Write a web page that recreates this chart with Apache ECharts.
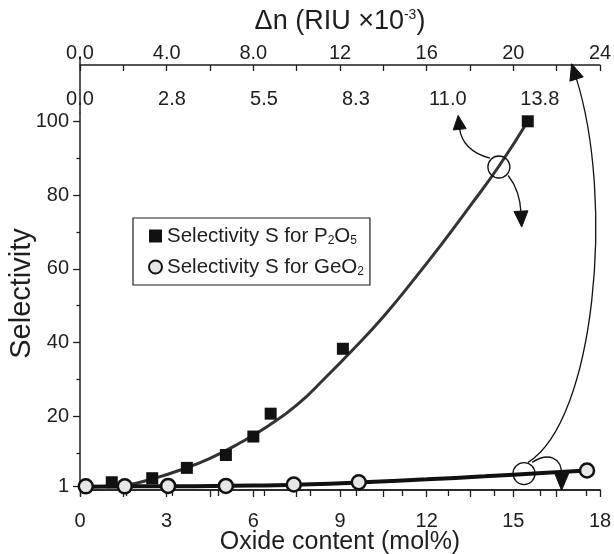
<!DOCTYPE html>
<html>
<head>
<meta charset="utf-8">
<script src="https://cdn.jsdelivr.net/npm/echarts@6/dist/echarts.min.js"></script>
<style>
html, body { margin: 0; padding: 0; background: #fff; }
#main { width: 614px; height: 554px; }
</style>
</head>
<body>
<div id="main"></div>
<script>
var chart = echarts.init(document.getElementById('main'));

// measured points (oxide content mol%, selectivity)
var p2o5X = [1.1, 2.5, 3.7, 5.05, 6.0, 6.6, 9.1, 15.5];
var p2o5S = [2.1, 3.2, 6.0, 9.5, 14.5, 20.7, 38.3, 100];
var geo2X = [0.2, 1.55, 3.05, 5.05, 7.4, 9.65, 17.55];
var geo2S = [1.0, 1.0, 1.1, 1.1, 1.5, 2.1, 5.3];

// fitted curves
var p2o5FitX = [1.5, 2.5, 3.5, 4.5, 5.5, 6.5, 7.5, 8.5, 9.5, 10.5, 11.5, 12.5, 13.5, 14.5, 15.5];
var p2o5FitS = [1.0, 3.0, 5.5, 8.6, 12.6, 17.3, 23, 30.5, 38.5, 47, 56.5, 66.5, 77, 87.8, 100];
var geo2FitX = [0.2, 2, 4, 6, 8, 10, 12, 14, 16, 17.55];
var geo2FitS = [0.9, 1.0, 1.05, 1.2, 1.55, 2.2, 2.9, 3.7, 4.6, 5.3];

// tick values
var yLabelVals = [1, 20, 40, 60, 80, 100];
var yMinorVals = [10, 30, 50, 70, 90];
var midLabelVals = [0, 2.75, 5.5, 8.25, 11, 13.75];
var midTickVals = [0, 1.375, 2.75, 4.125, 5.5, 6.875, 8.25, 9.625, 11, 12.375, 13.75, 15.125];

// annotation marks (in oxide / selectivity coordinates)
var annoCircles = [[14.5, 87.6], [15.37, 4.45]];
var annoArrows = [
    {pts: [[14.19, 90.0], [13.22, 92.1]], tip: [13.09, 101.6], len: 14, w: 13},
    {pts: [[14.82, 85.3], [15.23, 81.3]], tip: [15.29, 71.3], len: 16, w: 14},
    {pts: [[15.51, 7.5], [17.83, 18.9], [18.52, 78.6]], tip: [17.02, 115.6], len: 16, w: 14},
    {pts: [[15.65, 7.5], [16.2, 10.2], [16.68, 9.1]], tip: [16.67, -0.1], len: 17, w: 14}
];

var FONT = 'Liberation Sans, Arial, sans-serif';
var INK = '#1e1e1e';
var nameP = 'Selectivity S for P2O5';
var nameG = 'Selectivity S for GeO2';

function pairs(xs, ys) {
    return xs.map(function (x, i) { return [x, ys[i]]; });
}

var option = {
    animation: false,
    backgroundColor: '#fff',
    textStyle: {fontFamily: FONT},
    grid: {left: 80, right: 14, top: 113, bottom: 64, containLabel: false, outerBoundsMode: 'none'},
    legend: {
        orient: 'vertical',
        left: 133,
        top: 218,
        padding: [7, 6, 7, 15],
        itemGap: 9,
        itemWidth: 13,
        itemHeight: 13,
        borderColor: INK,
        borderWidth: 1.2,
        data: [
            {name: nameP, icon: 'rect', itemStyle: {color: '#111'}},
            {name: nameG, icon: 'circle', itemStyle: {color: '#e6e6e6', borderColor: '#111', borderWidth: 2}}
        ],
        formatter: function (name) {
            return name === nameP ? 'Selectivity S for P{s|2}O{s|5}' : 'Selectivity S for GeO{s|2}';
        },
        textStyle: {
            fontSize: 20.5, color: INK, lineHeight: 22,
            rich: {s: {fontSize: 12, verticalAlign: 'bottom', lineHeight: 22, padding: [9, 0, 0, 0]}}
        }
    },
    xAxis: [
        {
            type: 'value', position: 'bottom', min: 0, max: 18, interval: 1.5,
            axisLine: {lineStyle: {color: INK, width: 1.5}},
            axisTick: {length: 7, lineStyle: {color: INK, width: 1.3}},
            axisLabel: {
                fontSize: 20, color: INK, margin: 21,
                formatter: function (v) { return v % 3 === 0 ? String(v) : ''; }
            },
            splitLine: {show: false},
            name: 'Oxide content (mol%)', nameLocation: 'middle', nameGap: 40, nameMoveOverlap: false,
            nameTextStyle: {fontSize: 25, color: INK}
        },
        {
            type: 'value', position: 'top', min: 0, max: 15.55,
            axisLine: {lineStyle: {color: INK, width: 1.5}},
            axisTick: {inside: true, length: 6, customValues: midTickVals, lineStyle: {color: INK, width: 1.3}},
            axisLabel: {
                fontSize: 20, color: INK, margin: 4, customValues: midLabelVals,
                formatter: function (v) { return v.toFixed(1); }
            },
            splitLine: {show: false}
        },
        {
            type: 'value', position: 'top', offset: 48, min: 0, max: 24, interval: 2,
            axisLine: {lineStyle: {color: INK, width: 1.5}},
            axisTick: {inside: true, length: 6, lineStyle: {color: INK, width: 1.3}},
            axisLabel: {
                fontSize: 20, color: INK, margin: 2,
                formatter: function (v) {
                    if (v % 4 !== 0) return '';
                    return v < 10 ? v.toFixed(1) : String(v);
                }
            },
            splitLine: {show: false},
            name: '\u0394n (RIU \u00d710{sup|-3})', nameLocation: 'middle', nameGap: 30, nameMoveOverlap: false,
            nameTextStyle: {
                fontSize: 27, color: INK,
                rich: {sup: {fontSize: 14, verticalAlign: 'top', padding: [0, 0, 12, 0]}}
            }
        }
    ],
    yAxis: [
        {
            type: 'value', position: 'left', min: 0, max: 102.25,
            axisLine: {show: true, lineStyle: {color: INK, width: 1.5}},
            axisTick: {show: true, length: 7, customValues: yLabelVals, lineStyle: {color: INK, width: 1.3}},
            axisLabel: {fontSize: 20, color: INK, margin: 11, customValues: yLabelVals},
            splitLine: {show: false},
            name: 'Selectivity', nameLocation: 'middle', nameGap: 44, nameMoveOverlap: false,
            nameTextStyle: {fontSize: 29, color: INK, padding: [0, 0, 0, 16]}
        },
        {
            type: 'value', position: 'left', min: 0, max: 102.25,
            axisLine: {show: false},
            axisTick: {show: true, length: 3.5, customValues: yMinorVals, lineStyle: {color: INK, width: 1.3}},
            axisLabel: {show: false},
            splitLine: {show: false}
        }
    ],
    series: [
        {
            name: 'P2O5 fit', type: 'line', smooth: true, showSymbol: false, z: 2,
            lineStyle: {color: '#333', width: 3},
            data: pairs(p2o5FitX, p2o5FitS)
        },
        {
            name: 'GeO2 fit', type: 'line', smooth: true, showSymbol: false, z: 2,
            lineStyle: {color: '#111', width: 4},
            data: pairs(geo2FitX, geo2FitS)
        },
        {
            name: nameP, type: 'scatter', symbol: 'rect', symbolSize: 12, z: 4,
            itemStyle: {color: '#111', opacity: 1},
            data: pairs(p2o5X, p2o5S)
        },
        {
            name: nameG, type: 'scatter', symbol: 'circle', symbolSize: 14, z: 5,
            itemStyle: {color: '#e6e6e6', borderColor: '#111', borderWidth: 2.5, opacity: 1},
            data: pairs(geo2X, geo2S)
        }
    ]
};

chart.setOption(option);

// annotations: open circles, curved arrows, and the y axis line carried up to the top scale
function px(p) {
    return chart.convertToPixel({seriesIndex: 0}, p);
}

var graphics = [];
var yTop = px([0, 102.25]);
var yUp = px([0, 117.6]);
graphics.push({
    type: 'line', silent: true, z: 10,
    shape: {x1: yTop[0], y1: yTop[1], x2: yUp[0], y2: yUp[1]},
    style: {stroke: INK, lineWidth: 1.5}
});

annoCircles.forEach(function (c) {
    var p = px(c);
    graphics.push({
        type: 'circle', silent: true, z: 10,
        shape: {cx: p[0], cy: p[1], r: 11},
        style: {fill: 'rgba(255,255,255,0)', stroke: '#111', lineWidth: 1.3}
    });
});

annoArrows.forEach(function (a) {
    var pts = a.pts.map(px);
    var tip = px(a.tip);
    var last = pts[pts.length - 1];
    var dx = tip[0] - last[0], dy = tip[1] - last[1];
    var d = Math.sqrt(dx * dx + dy * dy);
    dx /= d; dy /= d;
    var base = [tip[0] - dx * a.len, tip[1] - dy * a.len];
    var end = [base[0] + dx * 2, base[1] + dy * 2];
    var shape = {x1: pts[0][0], y1: pts[0][1], x2: end[0], y2: end[1], cpx1: pts[1][0], cpy1: pts[1][1]};
    if (pts.length > 2) {
        shape.cpx2 = pts[2][0];
        shape.cpy2 = pts[2][1];
    }
    graphics.push({
        type: 'bezierCurve', silent: true, z: 10,
        shape: shape,
        style: {fill: null, stroke: '#111', lineWidth: 1.3}
    });
    var nx = -dy * a.w / 2, ny = dx * a.w / 2;
    graphics.push({
        type: 'polygon', silent: true, z: 10,
        shape: {points: [tip, [base[0] + nx, base[1] + ny], [base[0] - nx, base[1] - ny]]},
        style: {fill: '#111', stroke: '#111', lineWidth: 1}
    });
});

chart.setOption({graphic: graphics});
</script>
</body>
</html>
